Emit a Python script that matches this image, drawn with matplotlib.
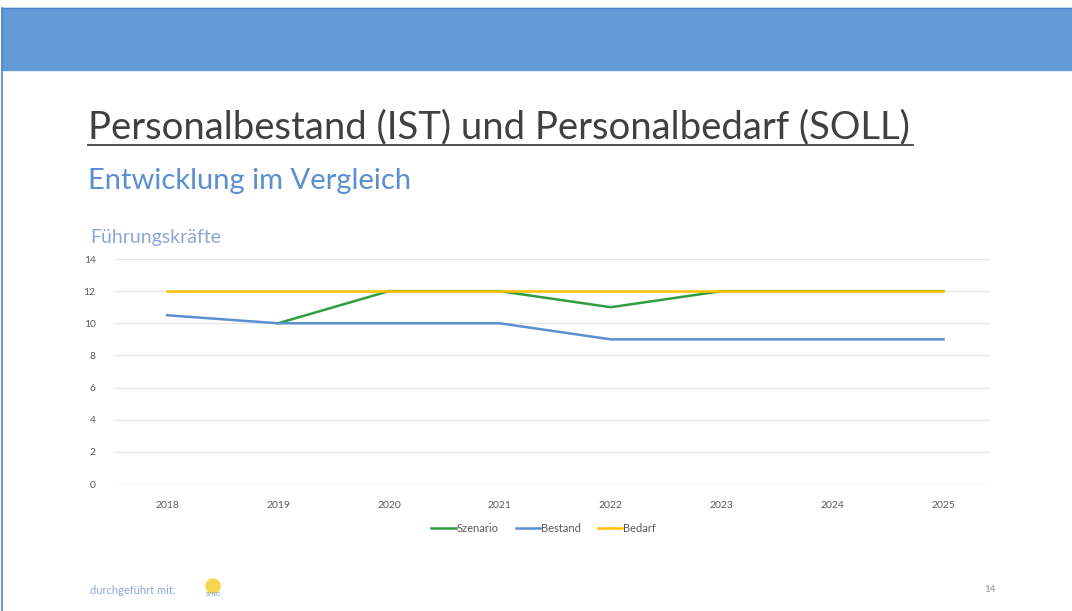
import numpy as np
import matplotlib
matplotlib.use("Agg")
import matplotlib.pyplot as plt
from matplotlib.patches import Rectangle, Circle

plt.rcParams['font.family'] = ['Lato', 'DejaVu Sans']

# chart data
years = ['2018', '2019', '2020', '2021', '2022', '2023', '2024', '2025']
szenario = [np.nan, 10, 12, 12, 11, 12, 12, 12]
bestand = [10.5, 10, 10, 10, 9, 9, 9, 9]
bedarf = [12, 12, 12, 12, 12, 12, 12, 12]
yticks = [0, 2, 4, 6, 8, 10, 12, 14]

W, H = 1072, 611
fig = plt.figure(figsize=(W / 100, H / 100), dpi=100)

# slide background + header band
bg = fig.add_axes([0, 0, 1, 1])
bg.set_xlim(0, W)
bg.set_ylim(H, 0)
bg.axis('off')
bg.add_patch(Rectangle((2, 8), W - 2, 62, color='#629bd6', zorder=1))
bg.plot([2, 2], [8, H], color='#4a86c8', lw=1.2)
bg.plot([2, W], [8, 8], color='#4a86c8', lw=1)

# titles
bg.text(88, 127, 'Personalbestand (IST) und Personalbedarf (SOLL)', fontsize=27.5,
        color='#404040', va='center', ha='left')
bg.plot([88, 913], [145, 145], color='#404040', lw=1.3)
bg.text(88, 181, 'Entwicklung im Vergleich', fontsize=21,
        color='#5b8fd0', va='center', ha='left')
bg.text(90, 238, 'Führungskräfte', fontsize=14,
        color='#8ea6d6', va='center', ha='left')

# footer
bg.text(90, 590, 'durchgeführt mit:', fontsize=8, color='#8ea6d6', va='center')
bg.add_patch(Circle((213, 586), 7, color='#f7d54a', zorder=2))
bg.text(213, 594, 'SYNO', fontsize=4, color='#5b8fd0', ha='center', va='center', zorder=3)
bg.text(990, 590, '14', fontsize=7, color='#909090', ha='center', va='center')

# chart
ax = fig.add_axes([115 / W, 1 - 484 / H, 875 / W, 225 / H])
x = np.arange(len(years))
ax.plot(x, szenario, color='#2e9e3e', lw=1.8, label='Szenario')
ax.plot(x, bestand, color='#5b8fd0', lw=1.8, label='Bestand')
ax.plot(x, bedarf, color='#ffc000', lw=1.8, label='Bedarf')

ax.set_xlim(-0.47, 7.42)
ax.set_ylim(0, 14)
ax.set_xticks(x)
ax.set_xticklabels(years)
ax.set_yticks(yticks)
ax.grid(axis='y', color='#e6e6e6', lw=0.9)
ax.set_axisbelow(True)
for s in ax.spines.values():
    s.set_visible(False)
ax.tick_params(length=0, labelsize=7.5, colors='#595959')
ax.tick_params(axis='x', pad=12)
ax.tick_params(axis='y', pad=14)

ax.legend(loc='upper center', bbox_to_anchor=(0.49, -0.13), ncol=3, frameon=False,
          fontsize=8, handlelength=2.2, handletextpad=0.1, columnspacing=1.5,
          labelcolor='#595959')

fig.savefig('out.png', dpi=100)
